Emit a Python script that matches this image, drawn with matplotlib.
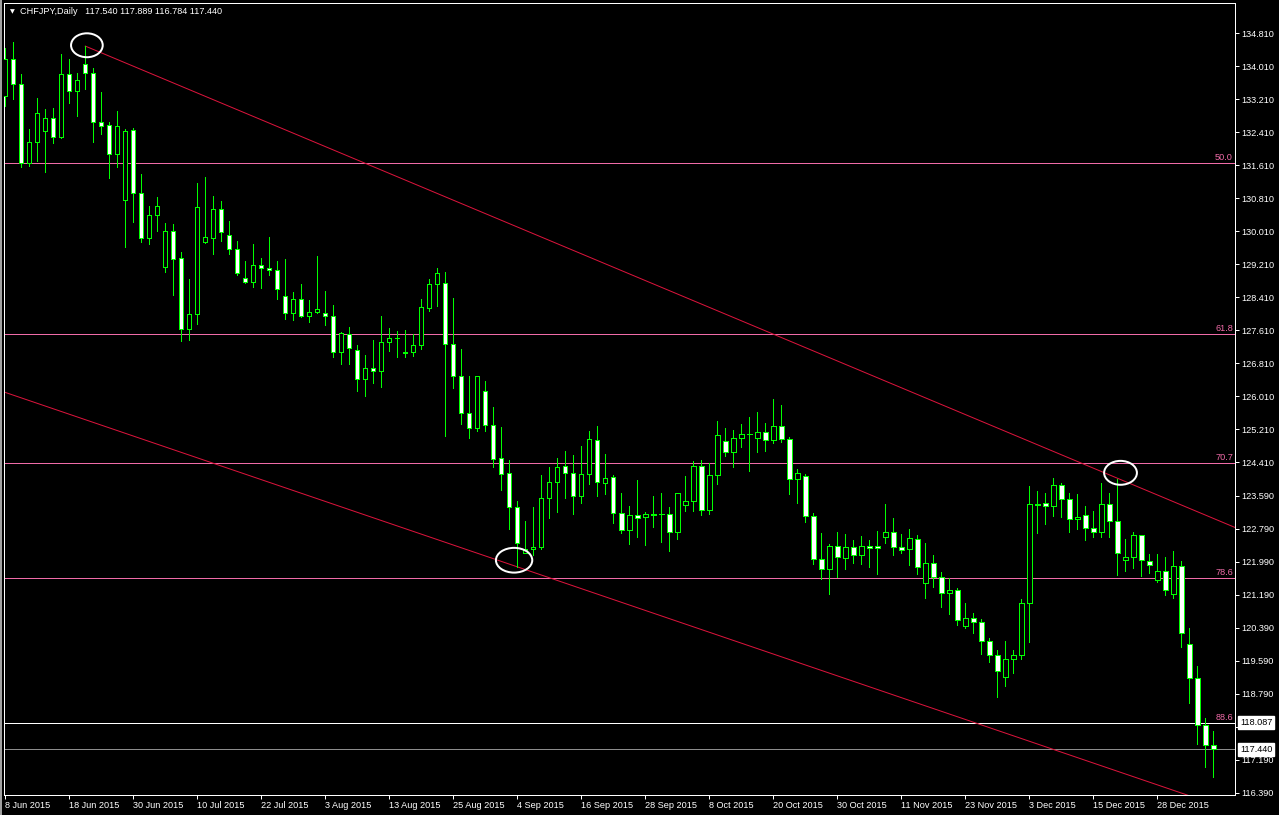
import matplotlib
matplotlib.use("Agg")
import matplotlib.pyplot as plt
from matplotlib.patches import Ellipse

# ---------------- data ----------------
symbol = "CHFJPY,Daily"
last_ohlc_text = "117.540 117.889 116.784 117.440"

opens = [133.30, 134.18, 133.57, 131.66, 132.17, 132.43, 132.76, 132.30, 133.82, 133.40,
         134.07, 133.84, 132.65, 132.58, 131.88, 130.76, 132.46, 130.94, 129.84, 130.40,
         129.15, 130.01, 129.35, 127.63, 127.99, 129.74, 129.85, 130.56, 129.93, 129.57,
         128.87, 128.77, 129.18, 129.11, 129.06, 128.43, 128.02, 128.36, 127.95, 128.04,
         128.02, 127.95, 127.07, 127.52, 127.14, 126.42, 126.69, 126.61, 127.32, 127.41,
         127.07, 127.07, 127.24, 128.14, 128.72, 128.75, 127.27, 126.49, 125.59, 125.23,
         126.13, 125.30, 124.50, 124.14, 123.31, 122.20, 122.30, 122.34, 123.53, 123.92,
         124.31, 124.14, 123.60, 124.11, 124.94, 123.90, 124.04, 123.17, 122.76, 123.12,
         123.07, 123.14, 123.14, 123.14, 122.71, 123.36, 123.46, 124.31, 123.24, 124.09,
         124.91, 124.65, 124.99, 125.09, 124.99, 125.13, 124.94, 125.28, 124.96, 123.99,
         124.07, 123.10, 122.05, 121.81, 122.37, 122.08, 122.34, 122.15, 122.37, 122.37,
         122.59, 122.71, 122.34, 122.30, 122.54, 121.47, 121.96, 121.62, 121.23, 121.30,
         120.43, 120.62, 120.52, 120.06, 119.72, 119.21, 119.63, 119.72, 120.99, 123.40,
         123.43, 123.34, 123.85, 123.51, 123.02, 123.12, 122.80, 122.71, 123.39, 122.97,
         122.03, 122.10, 122.63, 122.00, 121.54, 121.76, 121.20, 121.88, 119.99, 119.17,
         118.03, 117.540]
highs = [134.45, 134.60, 133.82, 132.48, 133.23, 132.98, 132.99, 134.31, 134.18, 133.85,
         134.50, 133.96, 133.38, 132.66, 132.93, 132.48, 132.51, 131.40, 130.62, 130.83,
         130.22, 130.19, 129.50, 128.85, 131.17, 131.33, 130.86, 130.74, 130.26, 129.77,
         129.29, 129.70, 129.35, 129.87, 129.29, 129.34, 128.53, 128.72, 128.33, 129.40,
         128.55, 128.21, 127.56, 127.68, 127.24, 127.00, 127.36, 127.95, 127.66, 127.58,
         127.61, 127.51, 128.36, 128.86, 129.11, 129.01, 128.38, 127.15, 126.49, 126.49,
         126.38, 125.74, 125.25, 124.45, 123.46, 122.97, 123.33, 124.09, 124.28, 124.50,
         124.68, 124.58, 124.79, 125.16, 125.28, 124.60, 124.09, 123.65, 123.34, 123.97,
         123.19, 123.58, 123.65, 123.31, 123.65, 124.07, 124.43, 124.45, 124.38, 125.40,
         125.23, 125.18, 125.33, 125.50, 125.62, 125.35, 125.93, 125.79, 125.03, 124.24,
         124.11, 123.17, 122.68, 122.42, 122.71, 122.66, 122.51, 122.61, 122.51, 122.73,
         123.39, 123.05, 122.66, 122.78, 122.63, 122.44, 122.15, 121.74, 121.59, 121.35,
         120.99, 120.74, 120.60, 120.14, 119.85, 120.06, 119.85, 121.08, 123.82, 123.70,
         123.65, 124.02, 123.90, 123.65, 123.64, 123.34, 123.22, 123.90, 123.65, 123.99,
         122.54, 122.71, 122.63, 122.17, 122.17, 122.10, 122.25, 122.00, 120.38, 119.46,
         118.20, 117.889]
lows = [133.05, 133.21, 131.56, 131.60, 131.71, 131.45, 132.16, 132.26, 133.13, 132.80,
        133.46, 132.18, 132.37, 131.31, 131.57, 129.62, 130.24, 129.76, 129.69, 130.02,
        129.03, 128.46, 127.35, 127.37, 127.76, 129.72, 129.46, 129.78, 129.45, 128.94,
        128.75, 128.66, 128.64, 128.95, 128.36, 127.89, 127.86, 127.92, 127.80, 128.03,
        127.73, 126.95, 126.78, 126.78, 126.14, 126.02, 126.32, 126.22, 127.10, 126.97,
        126.97, 126.99, 127.15, 128.07, 128.19, 125.05, 126.20, 125.33, 124.99, 125.16,
        125.17, 124.30, 123.73, 122.78, 121.87, 122.20, 122.15, 122.30, 123.05, 123.19,
        123.53, 123.14, 123.41, 123.87, 123.60, 123.63, 122.93, 122.68, 122.42, 122.60,
        122.39, 122.84, 122.48, 122.26, 122.55, 123.22, 123.22, 123.12, 123.14, 123.87,
        124.55, 124.28, 124.77, 124.20, 124.65, 124.67, 124.87, 124.89, 123.63, 123.43,
        122.95, 121.93, 121.57, 121.20, 121.62, 121.81, 121.96, 121.93, 121.86, 121.69,
        122.46, 122.16, 122.20, 121.91, 121.69, 121.12, 121.39, 120.90, 120.72, 120.45,
        120.39, 120.27, 119.75, 119.55, 118.72, 118.99, 119.29, 119.63, 120.05, 122.68,
        122.90, 123.10, 123.07, 122.71, 122.78, 122.51, 122.59, 122.59, 122.60, 121.66,
        121.76, 121.83, 121.64, 121.71, 121.49, 121.18, 121.11, 119.93, 118.56, 117.58,
        117.02, 116.784]
closes = [134.18, 133.57, 131.66, 132.17, 132.87, 132.76, 132.29, 133.82, 133.40, 133.68,
          133.84, 132.65, 132.57, 131.88, 132.55, 132.43, 130.93, 129.84, 130.40, 130.61,
          130.01, 129.34, 127.63, 128.00, 130.59, 129.86, 130.56, 129.98, 129.57, 128.99,
          128.77, 129.18, 129.11, 129.06, 128.60, 128.02, 128.36, 127.95, 128.04, 128.12,
          127.95, 127.07, 127.53, 127.17, 126.42, 126.69, 126.61, 127.32, 127.41, 127.41,
          127.06, 127.24, 128.16, 128.72, 128.99, 127.27, 126.49, 125.59, 125.23, 126.49,
          125.30, 124.48, 124.11, 123.31, 122.46, 122.30, 122.34, 123.53, 123.92, 124.28,
          124.14, 123.60, 124.11, 124.96, 123.92, 124.02, 123.17, 122.76, 123.12, 123.05,
          123.14, 123.13, 123.15, 122.71, 123.65, 123.46, 124.31, 123.24, 124.09, 125.06,
          124.65, 124.99, 125.08, 125.08, 125.13, 124.94, 125.28, 124.96, 123.99, 124.14,
          123.10, 122.05, 121.81, 122.37, 122.10, 122.34, 122.15, 122.37, 122.32, 122.32,
          122.71, 122.34, 122.27, 122.56, 121.86, 121.96, 121.62, 121.23, 121.30, 120.57,
          120.62, 120.52, 120.06, 119.72, 119.34, 119.63, 119.72, 120.99, 123.39, 123.38,
          123.34, 123.85, 123.51, 123.02, 123.07, 122.80, 122.71, 123.39, 122.97, 122.20,
          122.10, 122.63, 122.03, 121.91, 121.76, 121.32, 121.88, 120.26, 119.17, 118.03,
          117.54, 117.440]

date_labels = ["8 Jun 2015", "18 Jun 2015", "30 Jun 2015", "10 Jul 2015", "22 Jul 2015",
               "3 Aug 2015", "13 Aug 2015", "25 Aug 2015", "4 Sep 2015", "16 Sep 2015",
               "28 Sep 2015", "8 Oct 2015", "20 Oct 2015", "30 Oct 2015", "11 Nov 2015",
               "23 Nov 2015", "3 Dec 2015", "15 Dec 2015", "28 Dec 2015"]
date_label_bars = [0, 8, 16, 24, 32, 40, 48, 56, 64, 72, 80, 88, 96, 104, 112, 120, 128, 136, 144]

price_ticks = [134.810, 134.010, 133.210, 132.410, 131.610, 130.810, 130.010, 129.210,
               128.410, 127.610, 126.810, 126.010, 125.210, 124.410, 123.590, 122.790,
               121.990, 121.190, 120.390, 119.590, 118.790, 117.990, 117.190, 116.390]

fib_labels = ["50.0", "61.8", "70.7", "78.6", "88.6"]
fib_prices = [131.66, 127.51, 124.38, 121.60, 118.087]
bid_price = 117.440

upper_line_bars = [10, 139]
upper_line_prices = [134.50, 124.02]
lower_line_bars = [0, 64]
lower_line_prices = [126.10, 121.87]

circle_bars = [10.2, 63.6, 139.4]
circle_prices = [134.52, 122.03, 124.15]

# ---------------- style ----------------
W, H, DPI = 1279, 815, 100
PX = 72.0 / DPI
GREEN = "#00FF00"
PINK = "#F06BA8"
RED = "#DC143C"
GRAY = "#8C8C8C"
FONT = "Liberation Sans"
FS = 6.6
BODY_W = 0.55

fig = plt.figure(figsize=(W / DPI, H / DPI), dpi=DPI, facecolor="black")
ax = fig.add_axes([4 / W, 20 / H, 1231 / W, 792 / H], facecolor="black")
ax.set_xlim(-0.16, 153.71)
ax.set_ylim(116.336, 135.545)

# window edge strip on the left
fig.patches.append(plt.Rectangle((0, 0), 2 / W, 1, transform=fig.transFigure,
                                 facecolor="#A0A0A0", edgecolor="none"))

n = len(opens)
xs = list(range(n))

# wicks
ax.vlines(xs, lows, highs, color=GREEN, lw=1 * PX, zorder=3, antialiased=False)
# bodies
for i in xs:
    o, c = opens[i], closes[i]
    bottom = min(o, c)
    height = abs(c - o)
    face = "white" if c < o else "black"
    if height < 1e-9:
        ax.hlines(o, i - BODY_W / 2, i + BODY_W / 2, color=GREEN, lw=1 * PX, zorder=4,
                  antialiased=False)
    else:
        ax.bar(i, height, bottom=bottom, width=BODY_W, color=face, edgecolor=GREEN,
               linewidth=1 * PX, zorder=4, antialiased=False)

# fib levels
for lab, p in zip(fib_labels, fib_prices):
    col = "white" if lab == "88.6" else PINK
    ax.axhline(p, color=col, lw=1 * PX, zorder=2, antialiased=False)
    ax.annotate(lab, xy=(1, p), xycoords=ax.get_yaxis_transform(), xytext=(-2, 1),
                textcoords="offset pixels", ha="right", va="bottom", color=PINK,
                fontsize=FS, family=FONT, zorder=5)

# bid line
ax.axhline(bid_price, color=GRAY, lw=1 * PX, zorder=2, antialiased=False)

# trend lines (rays)
def extend(bars, prices, x0, x1):
    slope = (prices[1] - prices[0]) / (bars[1] - bars[0])
    return [x0, x1], [prices[0] + slope * (x0 - bars[0]), prices[0] + slope * (x1 - bars[0])]

ux, uy = extend(upper_line_bars, upper_line_prices, upper_line_bars[0], 170)
ax.plot(ux, uy, color=RED, lw=1 * PX, zorder=2)
lx, ly = extend(lower_line_bars, lower_line_prices, -5, 170)
ax.plot(lx, ly, color=RED, lw=1 * PX, zorder=2)

# circles
circle_w = [3.96, 4.54, 4.1]
circle_h = [0.58, 0.60, 0.58]
for cx, cy, w, h in zip(circle_bars, circle_prices, circle_w, circle_h):
    ax.add_patch(Ellipse((cx, cy), w, h, facecolor="none", edgecolor="white",
                         lw=2 * PX, zorder=6))

# axes styling
for s in ax.spines.values():
    s.set_color("white")
    s.set_linewidth(1 * PX)

ax.yaxis.tick_right()
ax.set_yticks(price_ticks)
ax.set_yticklabels([f"{v:.3f}" for v in price_ticks])
ax.tick_params(axis="y", colors="white", length=4 * PX, width=1 * PX, pad=1.5,
               labelsize=FS)
ax.set_xticks(date_label_bars)
ax.set_xticklabels(date_labels)
ax.tick_params(axis="x", colors="white", length=4 * PX, width=1 * PX, pad=1.5,
               labelsize=FS)
for t in ax.get_xticklabels():
    t.set_horizontalalignment("left")
    t.set_family(FONT)
for t in ax.get_yticklabels():
    t.set_family(FONT)

# price boxes
for p in (fib_prices[-1], bid_price):
    ax.annotate(f"{p:.3f}", xy=(1, p), xycoords=ax.get_yaxis_transform(), xytext=(5, 0),
                textcoords="offset pixels", ha="left", va="center", color="black",
                fontsize=FS, family=FONT, zorder=10, annotation_clip=False,
                bbox=dict(boxstyle="square,pad=0.2", facecolor="white", edgecolor="white"))

# title
fig.text(12 / W, 1 - 12 / H, "\u25BC", color="white", fontsize=4.5, family="DejaVu Sans",
         ha="center", va="center")
fig.text(20 / W, 1 - 12 / H, symbol + "   " + last_ohlc_text, color="white", fontsize=FS,
         family=FONT, ha="left", va="center")

fig.savefig("out.png", dpi=DPI, facecolor="black")
